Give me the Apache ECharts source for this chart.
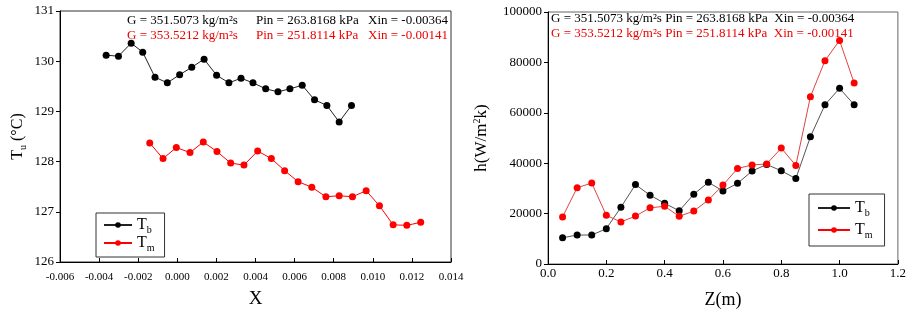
<!DOCTYPE html>
<html>
<head>
<meta charset="utf-8">
<script src="https://cdn.jsdelivr.net/npm/echarts@6/dist/echarts.min.js"></script>
<style>
  html, body { margin: 0; padding: 0; background: #fff; }
  #chart { width: 909px; height: 314px; }
</style>
</head>
<body>
<div id="chart"></div>
<script>
// left panel: temperature vs quality X
var tbX = [-0.00364, -0.00301, -0.00236, -0.00177, -0.00114, -0.00051, 0.00012, 0.00074, 0.00137, 0.00201,
  0.00264, 0.00326, 0.00387, 0.00452, 0.00515, 0.00576, 0.00639, 0.00702, 0.00765, 0.00828, 0.00891];
var tbT = [130.12, 130.10, 130.36, 130.18, 129.68, 129.57, 129.73, 129.88, 130.04, 129.72,
  129.57, 129.66, 129.57, 129.45, 129.39, 129.45, 129.52, 129.23, 129.12, 128.79, 129.12];
var tmX = [-0.00141, -0.00073, -0.00005, 0.00065, 0.00133, 0.00203, 0.00273, 0.00341, 0.00411, 0.00481,
  0.00549, 0.00618, 0.00688, 0.00760, 0.00828, 0.00896, 0.00966, 0.01034, 0.01104, 0.01174, 0.01245];
var tmT = [128.37, 128.06, 128.28, 128.18, 128.39, 128.20, 127.97, 127.93, 128.21, 128.06,
  127.82, 127.60, 127.49, 127.30, 127.32, 127.30, 127.42, 127.12, 126.74, 126.73, 126.79];

// right panel: heat transfer coefficient vs Z
var zPos = [0.05, 0.10, 0.15, 0.20, 0.25, 0.30, 0.35, 0.40, 0.45, 0.50, 0.55,
  0.60, 0.65, 0.70, 0.75, 0.80, 0.85, 0.90, 0.95, 1.00, 1.05];
var hTb = [10400, 11500, 11500, 14000, 22500, 31500, 27300, 24100, 21100, 27700, 32400,
  29000, 32000, 36900, 39500, 37000, 33900, 50500, 63200, 69700, 63200];
var hTm = [18700, 30300, 32100, 19300, 16700, 19000, 22300, 22900, 18900, 21000, 25400,
  31300, 37900, 39300, 39700, 46000, 39100, 66400, 80700, 88700, 71800];

var line1 = ["G = 351.5073 kg/m\u00b2s", "Pin = 263.8168 kPa", "Xin = -0.00364"];
var line2 = ["G = 353.5212 kg/m\u00b2s", "Pin = 251.8114 kPa", "Xin = -0.00141"];

var FONT = "Liberation Serif";

function zip(xs, ys) {
  return xs.map(function (x, i) { return [x, ys[i]]; });
}

function richSet(size) {
  return {
    t: { fontFamily: FONT, fontSize: size, color: "#000", lineHeight: 20, verticalAlign: "middle" },
    s: { fontFamily: FONT, fontSize: 10, color: "#000", lineHeight: 20, verticalAlign: "bottom" },
    p: { fontFamily: FONT, fontSize: 10, color: "#000", lineHeight: 20, verticalAlign: "top" }
  };
}

function legendFmt(name) {
  return name === "Tb" ? "{t|T}{s|b}" : "{t|T}{s|m}";
}

function txt(x, y, s, color) {
  return {
    type: "text", left: x, top: y,
    style: { text: s, fill: color, font: "13px " + FONT }
  };
}

var chart = echarts.init(document.getElementById("chart"));

var xAxisCommon = {
  axisLine: { show: true, onZero: false, lineStyle: { color: "#000", width: 1 } },
  axisTick: { show: true, inside: true, length: 4, lineStyle: { color: "#000" } },
  splitLine: { show: false }
};
var yAxisCommon = {
  axisLine: { show: true, onZero: false, lineStyle: { color: "#000", width: 1 } },
  axisTick: { show: true, inside: false, length: 4, lineStyle: { color: "#000" } },
  splitLine: { show: false }
};

var option = {
  animation: false,
  backgroundColor: "#fff",
  grid: [
    { left: 60, top: 11, width: 391, height: 257, show: true, borderColor: "#333", borderWidth: 1 },
    { left: 548, top: 12, width: 355, height: 254, show: true, borderColor: "#666", borderWidth: 1 }
  ],
  xAxis: [
    Object.assign({
      type: "value", gridIndex: 0, min: -0.006, max: 0.014, interval: 0.002,
      name: "X", nameLocation: "middle", nameGap: 28,
      nameTextStyle: { fontFamily: FONT, fontSize: 19, color: "#000" },
      axisLabel: {
        fontFamily: FONT, fontSize: 11, color: "#000", margin: 10,
        formatter: function (v) { return Math.abs(v) < 1e-9 ? "0.000" : v.toFixed(3); }
      }
    }, xAxisCommon),
    Object.assign({
      type: "value", gridIndex: 1, min: 0, max: 1.2, interval: 0.2,
      name: "Z(m)", nameLocation: "middle", nameGap: 27,
      nameTextStyle: { fontFamily: FONT, fontSize: 18, color: "#000" },
      axisLabel: {
        fontFamily: FONT, fontSize: 13, color: "#000", margin: 3,
        formatter: function (v) { return v.toFixed(1); }
      }
    }, xAxisCommon)
  ],
  yAxis: [
    Object.assign({
      type: "value", gridIndex: 0, min: 126, max: 131, interval: 1,
      name: "{t|T}{s|u}{t| (\u00b0C)}", nameLocation: "middle", nameGap: 32, nameRotate: 90,
      nameTextStyle: { rich: richSet(16) },
      axisLabel: { fontFamily: FONT, fontSize: 13, color: "#000", margin: 6 }
    }, yAxisCommon),
    Object.assign({
      type: "value", gridIndex: 1, min: 0, max: 100000, interval: 20000,
      name: "{t|h(W/m}{p|2}{t|k)}", nameLocation: "middle", nameGap: 56, nameRotate: 90,
      nameTextStyle: { rich: richSet(17) },
      axisLabel: {
        fontFamily: FONT, fontSize: 13, color: "#000", margin: 6,
        formatter: function (v) { return String(v); }
      }
    }, yAxisCommon)
  ],
  legend: [
    {
      orient: "vertical", left: 96, top: 213, itemWidth: 28, itemHeight: 7, itemGap: 0,
      padding: [4, 10, 4, 7], borderColor: "#333", borderWidth: 1,
      data: ["Tb", "Tm"], formatter: legendFmt, textStyle: { rich: richSet(16) }
    },
    {
      orient: "vertical", left: 809, top: 194, itemWidth: 32, itemHeight: 7, itemGap: 4,
      padding: [6, 12, 6, 8], borderColor: "#333", borderWidth: 1,
      data: ["Tb", "Tm"], formatter: legendFmt, textStyle: { rich: richSet(16) }
    }
  ],
  graphic: [
    txt(127, 14, line1[0], "#000"), txt(256, 14, line1[1], "#000"), txt(368, 14, line1[2], "#000"),
    txt(127, 29, line2[0], "#e00"), txt(256, 29, line2[1], "#e00"), txt(368, 29, line2[2], "#e00"),
    txt(551, 12, line1[0] + " " + line1[1] + "  " + line1[2], "#000"),
    txt(551, 27, line2[0] + " " + line2[1] + "  " + line2[2], "#e00")
  ],
  series: [
    {
      name: "Tb", type: "line", xAxisIndex: 0, yAxisIndex: 0, data: zip(tbX, tbT),
      symbol: "circle", symbolSize: 7, itemStyle: { color: "#000" },
      lineStyle: { color: "#222", width: 1 }
    },
    {
      name: "Tm", type: "line", xAxisIndex: 0, yAxisIndex: 0, data: zip(tmX, tmT),
      symbol: "circle", symbolSize: 7, itemStyle: { color: "#f00" },
      lineStyle: { color: "#f00", width: 1 }
    },
    {
      name: "Tb", type: "line", xAxisIndex: 1, yAxisIndex: 1, data: zip(zPos, hTb),
      symbol: "circle", symbolSize: 7, itemStyle: { color: "#000" },
      lineStyle: { color: "#555", width: 1 }
    },
    {
      name: "Tm", type: "line", xAxisIndex: 1, yAxisIndex: 1, data: zip(zPos, hTm),
      symbol: "circle", symbolSize: 7, itemStyle: { color: "#f00" },
      lineStyle: { color: "#d44", width: 1 }
    }
  ]
};

chart.setOption(option);
</script>
</body>
</html>
